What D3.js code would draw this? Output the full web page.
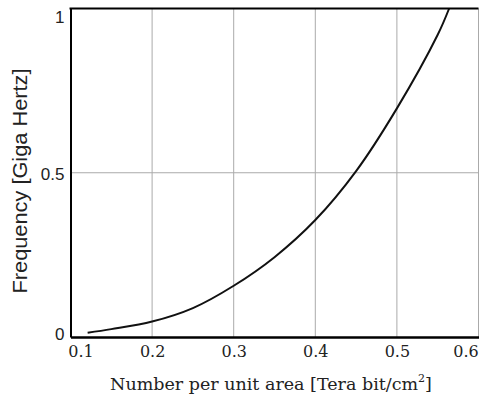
<!DOCTYPE html>
<html>
<head>
<meta charset="utf-8">
<script src="https://cdn.jsdelivr.net/npm/d3@7"></script>
<style>
  body { margin: 0; background: #fff; }
</style>
</head>
<body>
<svg id="chart" width="479" height="398"></svg>
<script>
// 读出的数据点
var density = [0.121, 0.15, 0.2, 0.25, 0.3, 0.35, 0.4, 0.45, 0.5, 0.55, 0.564];
var freq = [0.013, 0.024, 0.047, 0.088, 0.156, 0.243, 0.356, 0.505, 0.696, 0.92, 1.0];
var xTicks = [0.1, 0.2, 0.3, 0.4, 0.5, 0.6];
var yTicks = [0, 0.5, 1];

var svg = d3.select('#chart');

var x = d3.scaleLinear().domain([0.1, 0.6]).range([70.5, 478.5]);
var y = d3.scaleLinear().domain([0, 1]).range([337, 8.5]);

// 网格线
svg.append('g')
    .selectAll('line')
    .data(xTicks.slice(1))
    .enter()
    .append('line')
    .attr('x1', d => x(d)).attr('x2', d => x(d))
    .attr('y1', y(1)).attr('y2', y(0))
    .attr('stroke', '#aaa')
    .attr('stroke-width', 1);

svg.append('line')
    .attr('x1', x(0.1)).attr('x2', x(0.6))
    .attr('y1', y(0.5)).attr('y2', y(0.5))
    .attr('stroke', '#aaa')
    .attr('stroke-width', 1);

// 曲线
var line = d3.line()
    .x((d, i) => x(density[i]))
    .y(d => y(d))
    .curve(d3.curveCatmullRom);

svg.append('path')
    .datum(freq)
    .attr('d', line)
    .attr('fill', 'none')
    .attr('stroke', '#111')
    .attr('stroke-width', 2);

// 坐标轴
var xAxis = svg.append('g')
    .attr('transform', 'translate(0,' + y(0) + ')')
    .call(d3.axisBottom(x).tickValues(xTicks).tickSize(0).tickFormat(d3.format('.1f')));
xAxis.select('.domain').attr('stroke', '#000').attr('stroke-width', 2.5);
xAxis.selectAll('text')
    .attr('font-family', 'DejaVu Serif')
    .attr('font-size', 16)
    .attr('fill', '#222')
    .attr('dy', '1.05em')
    .attr('dx', d => d == 0.1 ? 10 : (d == 0.6 ? -13 : 0));

var yAxis = svg.append('g')
    .attr('transform', 'translate(' + x(0.1) + ',0)')
    .call(d3.axisLeft(y).tickValues(yTicks).tickSize(0).tickFormat(d => d == 0.5 ? '0.5' : d));
yAxis.select('.domain').attr('stroke', '#000').attr('stroke-width', 2);
yAxis.selectAll('text')
    .attr('font-family', 'Liberation Sans')
    .attr('font-size', 17)
    .attr('fill', '#222')
    .attr('x', -6)
    .attr('dy', d => d == 1 ? '0.85em' : (d == 0 ? '0.15em' : '0.4em'));

// 顶部边框
svg.append('line')
    .attr('x1', x(0.1) - 1).attr('x2', x(0.6))
    .attr('y1', y(1)).attr('y2', y(1))
    .attr('stroke', '#000')
    .attr('stroke-width', 2);

// 轴标题
var xt = svg.append('text')
    .attr('x', 271)
    .attr('y', 390)
    .attr('text-anchor', 'middle')
    .attr('font-family', 'DejaVu Serif')
    .attr('font-size', 17.5)
    .attr('fill', '#222');
xt.append('tspan').text('Number per unit area  [Tera bit/cm');
xt.append('tspan').attr('font-size', 11).attr('dy', -8).text('2');
xt.append('tspan').attr('dy', 8).text(']');

svg.append('text')
    .attr('transform', 'translate(27,181) rotate(-90)')
    .attr('text-anchor', 'middle')
    .attr('font-family', 'Liberation Sans')
    .attr('font-size', 20)
    .attr('textLength', 225)
    .attr('lengthAdjust', 'spacingAndGlyphs')
    .attr('fill', '#222')
    .text('Frequency [Giga Hertz]');
</script>
</body>
</html>
